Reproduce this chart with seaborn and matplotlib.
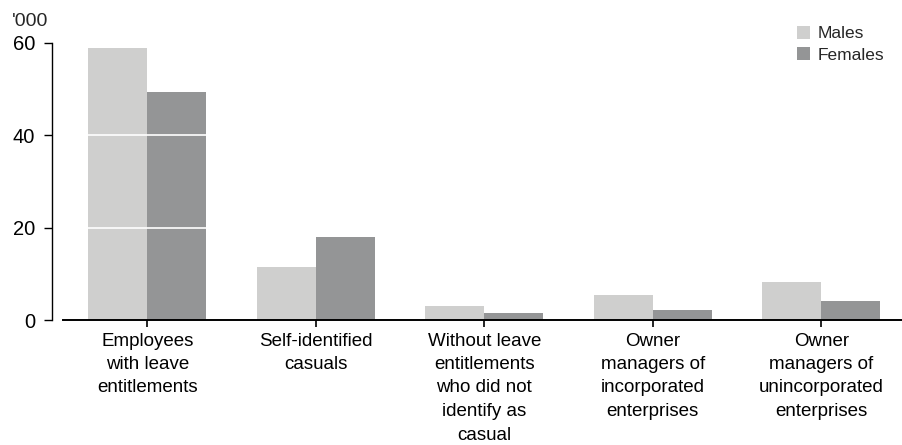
import matplotlib
matplotlib.use("Agg")
import matplotlib.pyplot as plt
import seaborn as sns
import pandas as pd
from matplotlib.patches import Patch

categories = [
    "Employees\nwith leave\nentitlements",
    "Self-identified\ncasuals",
    "Without leave\nentitlements\nwho did not\nidentify as\ncasual",
    "Owner\nmanagers of\nincorporated\nenterprises",
    "Owner\nmanagers of\nunincorporated\nenterprises",
]
males = [58.9, 11.5, 3.0, 5.4, 8.2]
females = [49.4, 18.0, 1.5, 2.2, 4.1]
series = ["Males", "Females"]
colors = ["#cfcfce", "#949596"]

df = pd.DataFrame({
    "category": categories * 2,
    "value": males + females,
    "sex": ["Males"] * len(categories) + ["Females"] * len(categories),
})

sns.set_style("white")
plt.rcParams["font.family"] = ["Liberation Sans", "DejaVu Sans"]

W, H = 903, 445
fig = plt.figure(figsize=(W / 100, H / 100), dpi=100)
ax = fig.add_axes([63 / W, (H - 320) / H, (903 - 63) / W, (320 - 43) / H])

sns.barplot(data=df, x="category", y="value", hue="sex", order=categories,
            hue_order=series, palette=colors, width=0.7, saturation=1,
            linewidth=0, ax=ax, legend=False)

ax.set_xlim(-0.5, 4.485)
ax.set_ylim(0, 60)
ax.set_yticks([0, 20, 40, 60])
ax.set_xlabel("")
ax.set_ylabel("")

# white gridlines drawn over the bars
for yv in [20, 40]:
    ax.axhline(yv, color="white", linewidth=1.2, zorder=5)

for s in ["top", "right"]:
    ax.spines[s].set_visible(False)
ax.spines["left"].set_position(("outward", 8))
ax.spines["left"].set_bounds(0, 60)
ax.spines["left"].set_color("black")
ax.spines["left"].set_linewidth(1.0)
ax.spines["bottom"].set_color("black")
ax.spines["bottom"].set_linewidth(1.4)
ax.spines["bottom"].set_zorder(6)

ax.tick_params(axis="y", direction="out", length=6, width=1.0, pad=6,
               labelsize=14.5, colors="black", left=True)
ax.tick_params(axis="x", direction="out", length=5, width=1.2, pad=4,
               labelsize=13.5, colors="black", bottom=True)
for lab in ax.get_xticklabels():
    lab.set_horizontalalignment("center")
    lab.set_multialignment("center")
    lab.set_linespacing(1.5)

fig.text(12 / W, 1 - 26 / H, "'000", fontsize=14, ha="left", va="baseline")

handles = [Patch(facecolor=c, edgecolor="none", label=l) for c, l in zip(colors, series)]
ax.legend(handles=handles, loc="upper right", bbox_to_anchor=(884 / W, 1 - 26 / H),
          bbox_transform=fig.transFigure, frameon=False, fontsize=12.5,
          handlelength=0.75, handleheight=0.75, handletextpad=0.45,
          labelspacing=0.35, borderpad=0, borderaxespad=0)

fig.savefig("out.png", dpi=100)
